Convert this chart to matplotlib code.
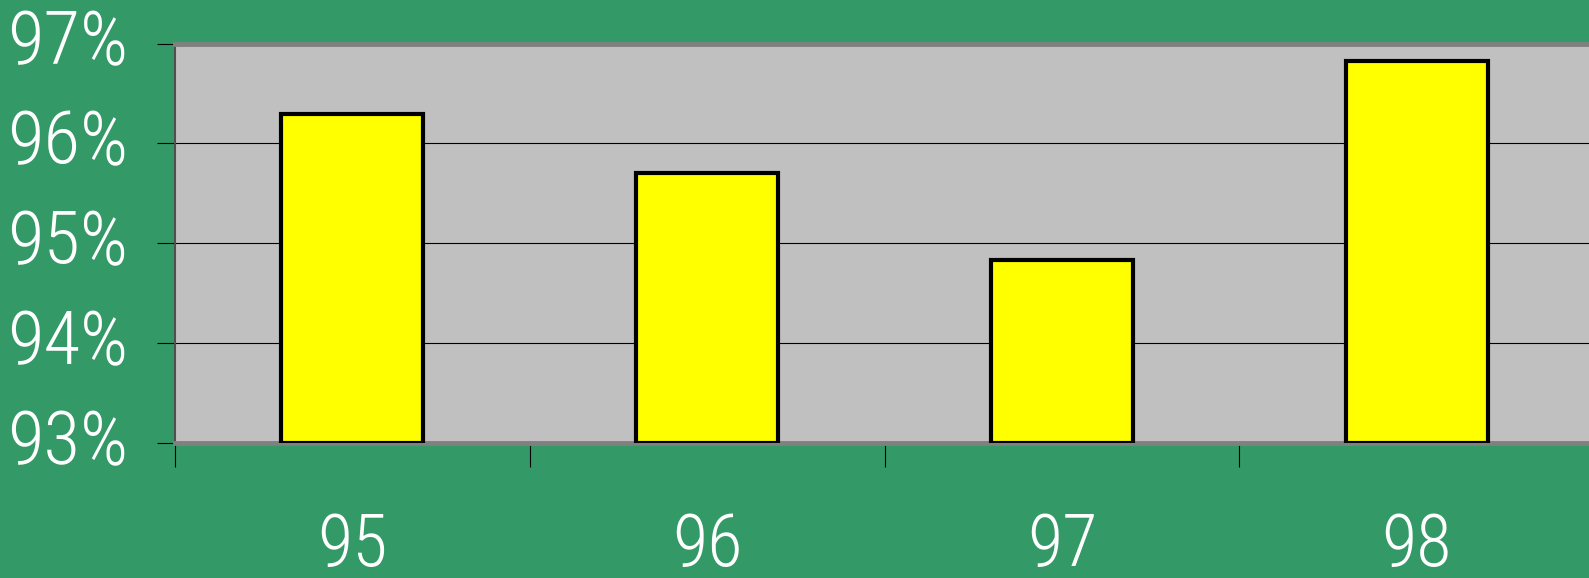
import matplotlib
matplotlib.use('Agg')
import matplotlib.pyplot as plt
from matplotlib.ticker import FixedLocator
from matplotlib.transforms import ScaledTranslation

# data
years = ['95', '96', '97', '98']
share = [96.29, 95.70, 94.83, 96.83]
y_ticks = [93, 94, 95, 96, 97]
y_labels = ['93%', '94%', '95%', '96%', '97%']

GREEN = '#339966'
WALL = '#C0C0C0'
FRAME = '#808080'

plt.rcParams['font.family'] = ['Roboto Condensed', 'DejaVu Sans']
plt.rcParams['font.weight'] = 300

fig = plt.figure(figsize=(15.89, 5.78), dpi=100, facecolor=GREEN)
ax = fig.add_axes([0.1101, 0.2336, 0.8899, 0.6911])
ax.set_facecolor(WALL)

x = list(range(len(years)))
ax.bar(x, [v - y_ticks[0] for v in share], bottom=y_ticks[0], width=0.4,
       color='#FFFF00', edgecolor='black', linewidth=3, zorder=3)

ax.set_xlim(-0.5, 3.485)
ax.set_ylim(y_ticks[0], y_ticks[-1])

ax.set_yticks(y_ticks)
ax.set_yticklabels(y_labels)
ax.yaxis.grid(True, color='black', linewidth=0.8, zorder=1)
ax.tick_params(axis='y', length=13, width=0.8, color='black', pad=21,
               labelsize=54, labelcolor='white')
# labels sit a little above their tick in the original
lift = ScaledTranslation(0, 7 / 100, fig.dpi_scale_trans)
for lab in ax.get_yticklabels():
    lab.set_transform(lab.get_transform() + lift)

ax.set_xticks(x)
ax.set_xticklabels(years)
ax.xaxis.set_minor_locator(FixedLocator([-0.5, 0.5, 1.5, 2.5]))
ax.tick_params(axis='x', which='major', length=0, pad=49,
               labelsize=52, labelcolor='white')
ax.tick_params(axis='x', which='minor', length=17, width=0.8, color='black')

for side in ['top', 'bottom']:
    ax.spines[side].set_color(FRAME)
    ax.spines[side].set_linewidth(3.5)
ax.spines['left'].set_color('#505050')
ax.spines['left'].set_linewidth(1.5)
ax.spines['right'].set_visible(False)

fig.savefig('out.png', dpi=100, facecolor=GREEN)
